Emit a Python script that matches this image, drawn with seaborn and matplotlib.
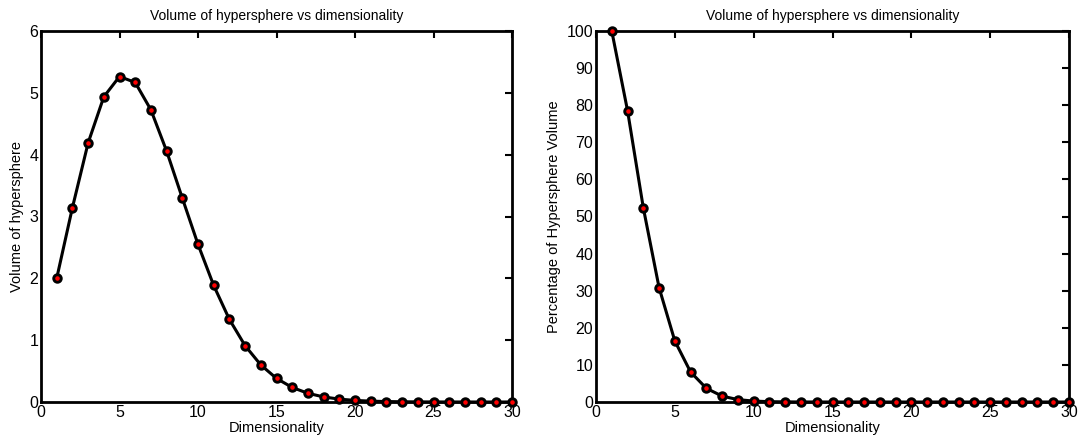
import matplotlib
matplotlib.use("Agg")
import matplotlib.pyplot as plt
import seaborn as sns
import pandas as pd

# Unit hypersphere volume for dimensions 1..30
dims = list(range(1, 31))
volume = [2.0000, 3.1416, 4.1888, 4.9348, 5.2638, 5.1677, 4.7248, 4.0587,
          3.2985, 2.5502, 1.8841, 1.3353, 0.9106, 0.5993, 0.3814, 0.2353,
          0.1409, 0.0821, 0.0466, 0.0258, 0.0139, 0.0073, 0.0038, 0.0019,
          0.00095, 0.00047, 0.00022, 0.00010, 0.00005, 0.00002]
# Share of the enclosing cube occupied by the hypersphere, in percent
percent = [100.0, 78.540, 52.360, 30.843, 16.449, 8.0746, 3.6912, 1.5854,
           0.6442, 0.2490, 0.0920, 0.0326, 0.0111, 0.0037, 0.0012, 0.00036,
           0.00011, 0.00003, 0.00001, 0.0, 0.0, 0.0, 0.0, 0.0, 0.0, 0.0,
           0.0, 0.0, 0.0, 0.0]

title = "Volume of hypersphere vs dimensionality"
xlabel = "Dimensionality"
ylabels = ["Volume of hypersphere", "Percentage of Hypersphere Volume"]
xticks = [0, 5, 10, 15, 20, 25, 30]
yticks = [[0, 1, 2, 3, 4, 5, 6], list(range(0, 101, 10))]
ylims = [(0, 6), (0, 100)]

sns.set_style("white")
plt.rcParams["font.family"] = ["Liberation Sans", "DejaVu Sans"]
plt.rcParams["font.size"] = 10
plt.rcParams["text.color"] = "black"
plt.rcParams["axes.labelcolor"] = "black"
plt.rcParams["xtick.color"] = "black"
plt.rcParams["ytick.color"] = "black"

df = pd.DataFrame({"dim": dims, "volume": volume, "percent": percent})

fig = plt.figure(figsize=(10.83, 4.47), dpi=100)
W, H = 1083, 447
ax1 = fig.add_axes([41 / W, 1 - 402 / H, 471 / W, 371 / H])
ax2 = fig.add_axes([596 / W, 1 - 402 / H, 473 / W, 371 / H])

for ax, col, ylab, yt, yl in zip([ax1, ax2], ["volume", "percent"], ylabels, yticks, ylims):
    sns.lineplot(data=df, x="dim", y=col, ax=ax, color="black", linewidth=2.2,
                 marker="o", markersize=5.4, markerfacecolor="red",
                 markeredgecolor="black", markeredgewidth=2.1, clip_on=False,
                 zorder=5)
    ax.set_xlim(0, 30)
    ax.set_ylim(*yl)
    ax.set_xticks(xticks)
    ax.set_yticks(yt)
    ax.set_title(title, fontsize=10, pad=8, color="black")
    ax.set_xlabel(xlabel, fontsize=10.5, labelpad=1, color="black")
    ax.set_ylabel(ylab, fontsize=10.5, labelpad=4, color="black")
    ax.tick_params(direction="in", length=5, width=1.5, top=True, right=True,
                   labelsize=11.5, pad=2, colors="black")
    for s in ax.spines.values():
        s.set_linewidth(2)
        s.set_color("black")
        s.set_visible(True)

fig.savefig("out.png", dpi=100)
